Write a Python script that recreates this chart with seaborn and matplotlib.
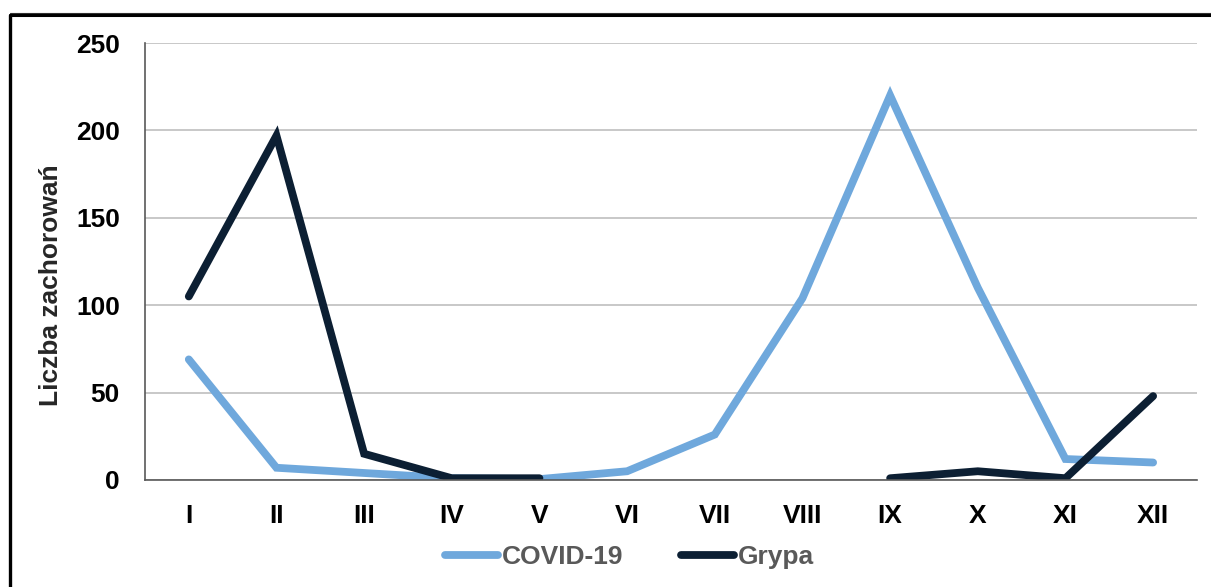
import numpy as np
import pandas as pd
import seaborn as sns
import matplotlib.pyplot as plt
from matplotlib.lines import Line2D

months = ["I", "II", "III", "IV", "V", "VI", "VII", "VIII", "IX", "X", "XI", "XII"]
covid = [69, 7, 4, 1, 0.5, 5, 26, 104, 220, 110, 12, 10]
grypa = [105, 197, 15, 1, 1, np.nan, np.nan, np.nan, 1, 5, 1, 48]

COVID_COLOR = "#6FA8DC"
GRYPA_COLOR = "#0C1F33"


def build_frame():
    rows = []
    for name, vals in [("COVID-19", covid), ("Grypa", grypa)]:
        seg = 0
        for i, v in enumerate(vals):
            if np.isnan(v):
                seg += 1
                continue
            rows.append({"x": i, "value": v, "series": name, "seg": f"{name}-{seg}"})
    return pd.DataFrame(rows)


def main():
    sns.set_theme(style="white")
    plt.rcParams["font.family"] = ["Liberation Sans", "DejaVu Sans"]

    df = build_frame()
    fig = plt.figure(figsize=(12.11, 5.87), dpi=100)
    ax = fig.add_axes([0.1197, 0.1823, 0.8687, 0.7444])

    sns.lineplot(
        data=df, x="x", y="value", hue="series", units="seg", estimator=None,
        palette={"COVID-19": COVID_COLOR, "Grypa": GRYPA_COLOR},
        linewidth=5.6, legend=False, ax=ax, sort=True,
    )
    for ln in ax.lines:
        ln.set_solid_capstyle("round")
        ln.set_solid_joinstyle("miter")

    ax.set_xlim(-0.5, 11.5)
    ax.set_ylim(0, 250)
    ax.set_yticks(range(0, 251, 50))
    ax.set_xticks(range(len(months)))
    ax.set_xticklabels(months)
    ax.yaxis.grid(True, color="#BFBFBF", linewidth=1.2)
    ax.set_axisbelow(True)
    for s in ["top", "right"]:
        ax.spines[s].set_visible(False)
    for s in ["left", "bottom"]:
        ax.spines[s].set_color("#595959")
        ax.spines[s].set_linewidth(1.2)
    ax.tick_params(axis="both", length=0, labelsize=19, colors="black")
    ax.tick_params(axis="x", pad=17)
    ax.tick_params(axis="y", pad=18)
    for lab in ax.get_xticklabels() + ax.get_yticklabels():
        lab.set_fontweight("bold")
    ax.set_xlabel("")
    ax.set_ylabel("Liczba zachorowań", fontsize=19, fontweight="bold")
    ax.yaxis.set_label_coords(-0.078, 0.446)

    handles = [
        Line2D([0], [0], color=COVID_COLOR, lw=5.6, solid_capstyle="round"),
        Line2D([0], [0], color=GRYPA_COLOR, lw=5.6, solid_capstyle="round"),
    ]
    leg = fig.legend(
        handles, ["COVID-19", "Grypa"], loc="center", bbox_to_anchor=(0.52, 0.051),
        ncol=2, frameon=False, handlelength=2.0, handletextpad=0.15, columnspacing=2.2,
        prop={"size": 19, "weight": "bold"},
    )
    for t in leg.get_texts():
        t.set_color("#595959")

    # outer frame (top and left visible)
    H, W = 587, 1211
    fig.add_artist(Line2D([10 / W, 1.01], [1 - 12.5 / H, 1 - 12.5 / H], color="#333333",
                          lw=0.8, transform=fig.transFigure))
    fig.add_artist(Line2D([10.5 / W, 1.01], [1 - 14.8 / H, 1 - 14.8 / H], color="black",
                          lw=2.2, transform=fig.transFigure))
    fig.add_artist(Line2D([10.5 / W, 10.5 / W], [1 - 14.8 / H, -0.01], color="black",
                          lw=2.4, transform=fig.transFigure))

    fig.savefig("out.png", dpi=100)


if __name__ == "__main__":
    main()
